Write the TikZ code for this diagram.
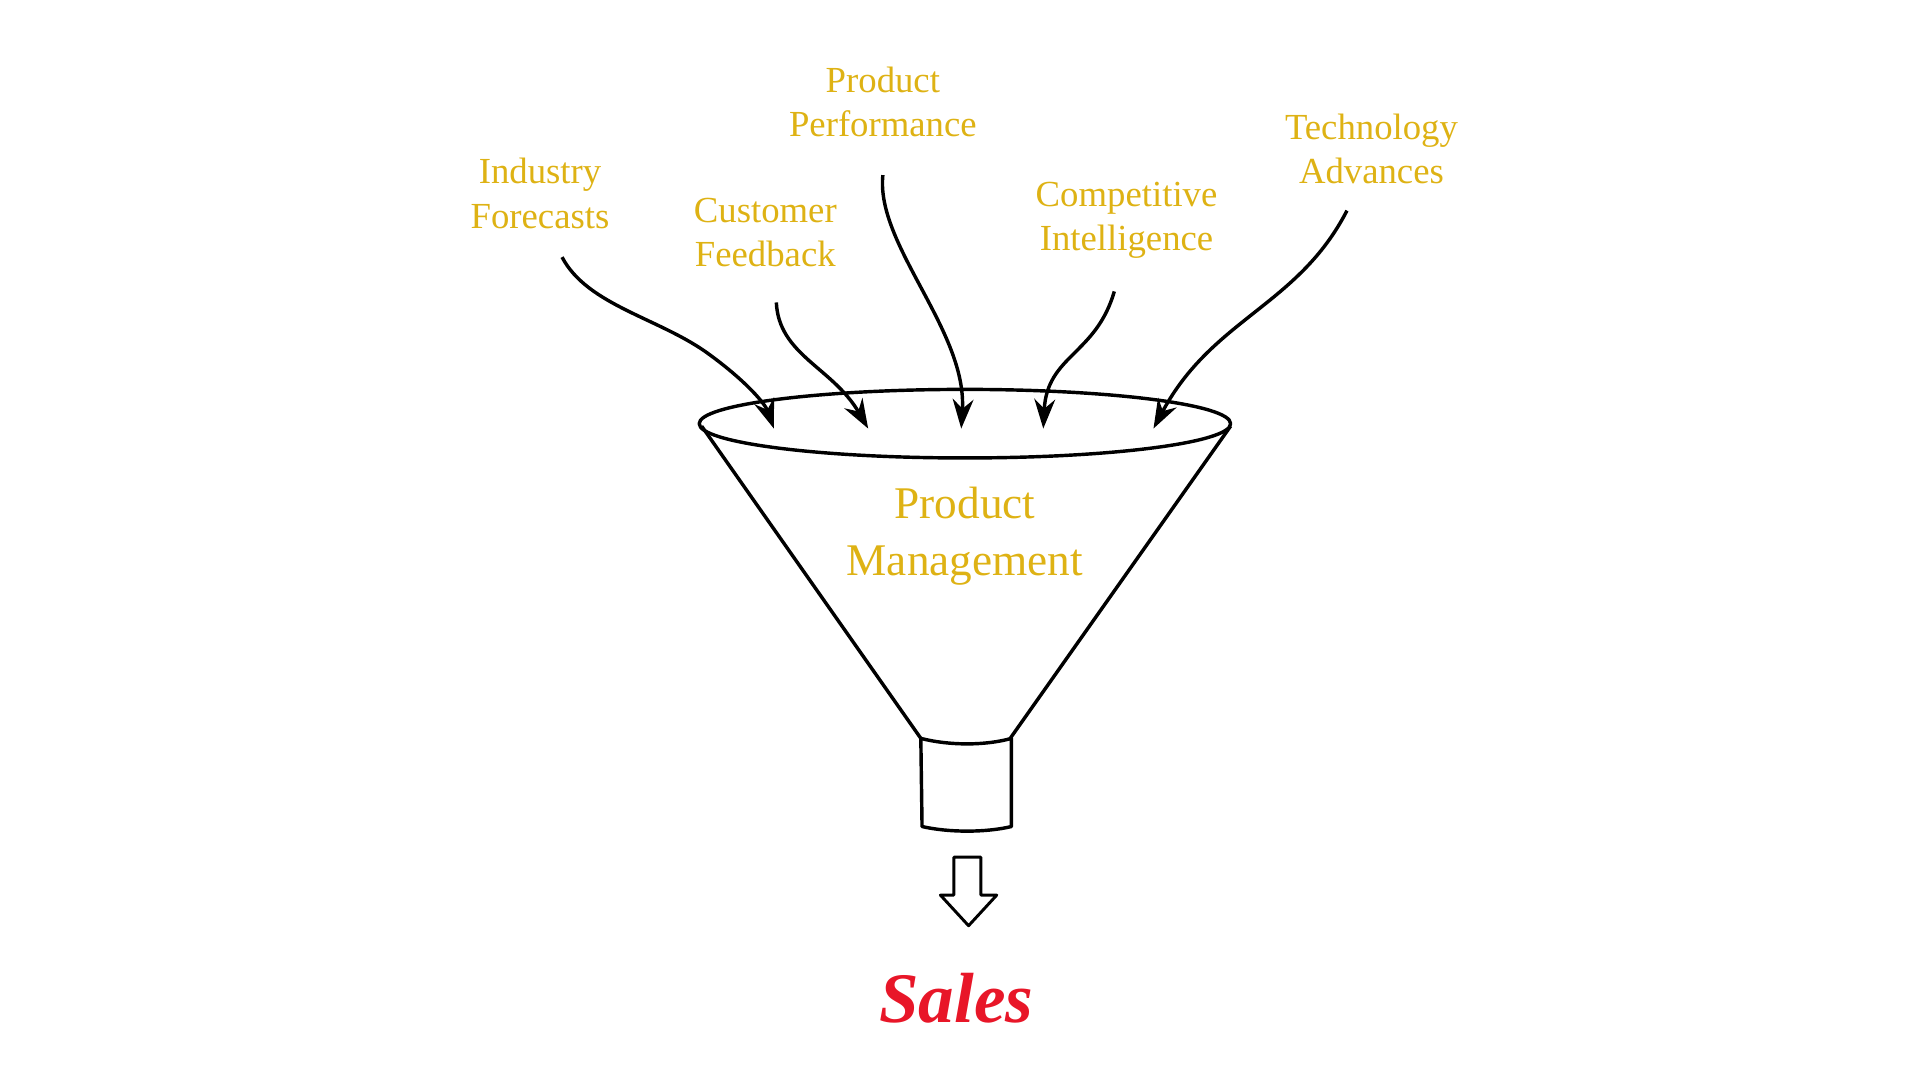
\documentclass[tikz,border=0pt]{standalone}
\usepackage{fontspec}
\setmainfont{Liberation Serif}
\usetikzlibrary{arrows.meta}
\definecolor{gold}{RGB}{222,178,20}
\definecolor{salesred}{RGB}{232,22,40}
\tikzset{
  lbl/.style={text=gold,font=\fontsize{30}{36}\selectfont,align=center},
  feed/.style={line width=2.8pt,-{Stealth[length=24pt,width=17pt]}},
  funnel/.style={line width=2.8pt,line join=round}
}
\begin{document}
\begin{tikzpicture}[x=1pt,y=-1pt]
	\useasboundingbox (0,0) rectangle (1568,882);
	
	% funnel
	\draw[funnel] (788,346) ellipse (217 and 28);
	\draw[funnel] (573,348) -- (752,603);
	\draw[funnel] (1005,348) -- (825,603);
	\draw[funnel] (752,603) .. controls (775,609) and (805,609) .. (826,603)
		-- (826,675) .. controls (805,680) and (775,680) .. (753,675) -- cycle;
	\draw[line width=2.4pt,line join=round] (779,700) -- (801,700) -- (801,731) -- (814,731)
		-- (791,756) -- (768,731) -- (779,731) -- cycle;
	
	% labels
	\node[lbl] (ind) at (441,158) {Industry\\Forecasts};
	\node[lbl] (cust) at (625,190) {Customer\\Feedback};
	\node[lbl] (perf) at (721,83) {Product\\Performance};
	\node[lbl] (comp) at (920,180) {Competitive\\Intelligence};
	\node[lbl] (tech) at (1120,122) {Technology\\Advances};
	\node[lbl,font=\fontsize{37}{46}\selectfont] (pm) at (788,438) {Product\\Management};
	\node[text=salesred,font=\fontsize{58}{66}\selectfont\bfseries\itshape] (sales) at (781,815) {Sales};
	
	% arrow ends
	\coordinate (s1) at (459,210); \coordinate (e1) at (632,350);
	\coordinate (s2) at (634,247); \coordinate (e2) at (709,350);
	\coordinate (s3) at (721,143); \coordinate (e3) at (785,350);
	\coordinate (s4) at (910,238); \coordinate (e4) at (852,350);
	\coordinate (s5) at (1100,172); \coordinate (e5) at (942,350);
	
	\draw[feed] (s1) .. controls (480,250) and (540,260) .. (580,290) .. controls (610,312) and (625,330) .. (e1);
	\draw[feed] (s2) .. controls (636,290) and (680,300) .. (e2);
	\draw[feed] (s3) .. controls (715,200) and (790,270) .. (e3);
	\draw[feed] (s4) .. controls (895,290) and (855,290) .. (e4);
	\draw[feed] (s5) .. controls (1060,250) and (990,260) .. (e5);
\end{tikzpicture}
\end{document}
